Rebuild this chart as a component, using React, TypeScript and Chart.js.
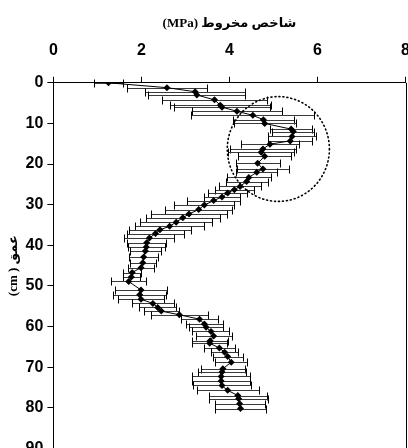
import React, { useEffect, useRef } from 'react';
import { Chart, registerables } from 'chart.js';

Chart.register(...registerables);

const depths = [
  0, 1.2, 2.2, 3, 4.2, 5.5, 6, 7, 8, 9.1, 10, 11.4, 12, 13.2, 14.3, 15.1, 16.3, 17.1, 18.1, 19.8,
  21.2, 22, 23.3, 24.3, 25.5, 26.3, 27.1, 28.1, 29, 30.1, 31.2, 32.3, 33.2, 34.3, 35.3, 36.2, 37.1, 38.2, 39.4, 40.4,
  41.4, 42.9, 44.3, 45.5, 46.7, 47.8, 48.9, 51, 52.2, 53.3, 54.3, 55.3, 56.2, 57.1, 58.2, 59.4, 60.2, 61.2, 62.3, 63.5,
  64.1, 65.3, 66.3, 67.4, 68.8, 70.4, 71.2, 72.3, 73.4, 74.5, 75.7, 77, 77.8, 79, 80.2,
];

const values = [
  1.25, 2.58, 3.22, 3.26, 3.66, 3.79, 3.83, 4.17, 4.53, 4.77, 4.8, 5.4, 5.45, 5.42, 5.38, 4.92, 4.76, 4.72, 4.8, 4.64,
  4.76, 4.62, 4.44, 4.39, 4.24, 4.11, 3.96, 3.83, 3.64, 3.43, 3.3, 3.08, 2.94, 2.79, 2.64, 2.42, 2.32, 2.18, 2.12, 2.11,
  2.09, 2.05, 2.03, 1.99, 1.79, 1.77, 1.71, 1.99, 1.96, 1.99, 2.26, 2.37, 2.45, 2.86, 3.32, 3.43, 3.47, 3.58, 3.64, 3.56,
  3.55, 3.77, 3.89, 3.96, 4.04, 3.85, 3.83, 3.81, 3.81, 3.83, 3.96, 4.19, 4.21, 4.23, 4.25,
];

const errors = [
  0.33, 0.9, 1.14, 1.1, 1.2, 1.15, 1.1, 1.03, 1.4, 0.7, 0.7, 0.48, 0.48, 0.55, 0.5, 0.66, 0.74, 0.75, 0.6, 0.5,
  0.6, 0.47, 0.5, 0.48, 0.47, 0.44, 0.44, 0.4, 0.6, 0.68, 0.76, 0.86, 0.84, 0.82, 0.78, 0.7, 0.65, 0.57, 0.44, 0.42,
  0.35, 0.33, 0.3, 0.3, 0.2, 0.2, 0.4, 0.6, 0.6, 0.53, 0.48, 0.42, 0.4, 0.65, 0.42, 0.42, 0.39, 0.42, 0.41, 0.4,
  0.4, 0.36, 0.3, 0.34, 0.36, 0.5, 0.54, 0.65, 0.66, 0.65, 0.7, 0.66, 0.67, 0.57, 0.57,
];

const xTicks = [0, 2, 4, 6, 8];
const yTicks = [0, 10, 20, 30, 40, 50, 60, 70, 80, 90];
const chartTitle = '(MPa) شاخص مخروط';
const yTitle = '(cm ) عمق';
const highlight = { cx: 5.11, cy: 16.3, rx: 1.16, ry: 12.9 };

const tickFont = { family: "'Liberation Sans Narrow', 'Liberation Sans', Arial, sans-serif", size: 16, weight: 'bold' as const };
const labelFamily = "'Liberation Serif', 'DejaVu Sans', serif";

export default function App() {
  const ref = useRef<HTMLCanvasElement>(null);

  useEffect(() => {
    if (!ref.current) return;
    const overlay = {
      id: 'overlay',
      beforeDatasetsDraw(chart: any) {
        const { ctx, scales } = chart;
        const x = scales.x;
        const y = scales.y;
        ctx.save();
        ctx.lineWidth = 1;
        depths.forEach((d, i) => {
          const py = Math.round(y.getPixelForValue(d)) + 0.5;
          const x1 = Math.round(x.getPixelForValue(values[i] - errors[i])) + 0.5;
          const x2 = Math.round(x.getPixelForValue(values[i] + errors[i])) + 0.5;
          ctx.strokeStyle = '#3a3a3a';
          ctx.beginPath();
          ctx.moveTo(x1, py);
          ctx.lineTo(x2, py);
          ctx.stroke();
          ctx.strokeStyle = '#000';
          ctx.beginPath();
          ctx.moveTo(x1, py - 4);
          ctx.lineTo(x1, py + 4);
          ctx.moveTo(x2, py - 4);
          ctx.lineTo(x2, py + 4);
          ctx.stroke();
        });
        ctx.restore();
      },
      afterDatasetsDraw(chart: any) {
        const { ctx, scales, chartArea } = chart;
        const x = scales.x;
        const y = scales.y;
        ctx.save();
        ctx.strokeStyle = '#000';
        ctx.lineWidth = 1;
        ctx.beginPath();
        const rx = Math.round(chartArea.right) + 0.5;
        ctx.moveTo(rx, chartArea.top);
        ctx.lineTo(rx, chartArea.bottom);
        ctx.stroke();
        const cx = x.getPixelForValue(highlight.cx);
        const cy = y.getPixelForValue(highlight.cy);
        const erx = Math.abs(x.getPixelForValue(highlight.cx + highlight.rx) - cx);
        const ery = Math.abs(y.getPixelForValue(highlight.cy + highlight.ry) - cy);
        ctx.setLineDash([1, 3]);
        ctx.lineCap = 'round';
        ctx.lineWidth = 1.6;
        ctx.strokeStyle = '#000';
        ctx.beginPath();
        ctx.ellipse(cx, cy, erx, ery, 0, 0, Math.PI * 2);
        ctx.stroke();
        ctx.restore();
      },
    };

    const chart = new Chart(ref.current, {
      type: 'scatter',
      data: {
        datasets: [
          {
            data: depths.map((d, i) => ({ x: values[i], y: d })),
            showLine: true,
            borderColor: '#000',
            borderWidth: 1,
            backgroundColor: '#000',
            pointStyle: 'rectRot',
            pointRadius: 3.5,
            pointBorderWidth: 0,
          },
        ],
      },
      options: {
        responsive: false,
        animation: false,
        layout: { padding: { left: 6, right: 8, top: 0, bottom: 0 } },
        plugins: {
          legend: { display: false },
          tooltip: { enabled: false },
          title: {
            display: true,
            fullSize: false,
            text: chartTitle,
            color: '#000',
            font: { family: labelFamily, size: 13, weight: 'bold' },
            padding: { top: 16, bottom: -8 },
          },
        },
        scales: {
          x: {
            type: 'linear',
            position: 'top',
            min: 0,
            max: 8,
            afterBuildTicks: (s: any) => {
              s.ticks = xTicks.map((v) => ({ value: v }));
            },
            ticks: { color: '#000', font: tickFont, padding: 17 },
            grid: { drawOnChartArea: false, tickLength: 6, color: '#000' },
            border: { color: '#000', width: 1 },
          },
          y: {
            type: 'linear',
            reverse: true,
            min: 0,
            max: 90,
            afterBuildTicks: (s: any) => {
              s.ticks = yTicks.map((v) => ({ value: v }));
            },
            ticks: { color: '#000', font: tickFont, padding: 4 },
            grid: { drawOnChartArea: false, tickLength: 6, color: '#000' },
            border: { color: '#000', width: 1 },
            title: {
              display: true,
              text: yTitle,
              color: '#000',
              font: { family: labelFamily, size: 13, weight: 'bold' },
              padding: { top: 0, bottom: 0 },
            },
          },
        },
      },
      plugins: [overlay],
    });
    return () => chart.destroy();
  }, []);

  return (
    <div style={{ position: 'absolute', left: 0, top: 0, width: 427, height: 462, background: '#fff' }}>
      <canvas ref={ref} width={427} height={462} />
    </div>
  );
}
